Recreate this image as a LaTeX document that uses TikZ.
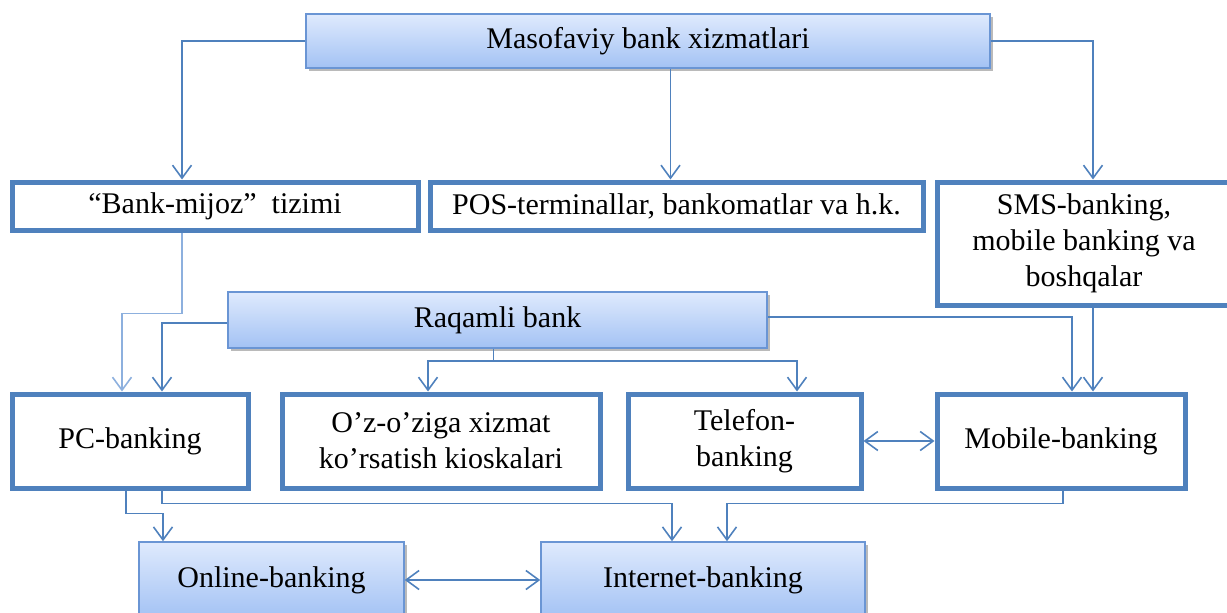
\documentclass[tikz,border=0pt]{standalone}
\usepackage{fontspec}
\setmainfont{Liberation Serif}
\usetikzlibrary{arrows.meta,shadows,calc}
\definecolor{ln}{RGB}{79,129,189}
\definecolor{lnl}{RGB}{141,176,222}
\definecolor{gtop}{RGB}{223,234,253}
\definecolor{gbot}{RGB}{163,194,244}
\definecolor{gbd}{RGB}{106,149,212}
\begin{document}
\begin{tikzpicture}[x=1pt,y=-1pt,
  every node/.style={font=\fontsize{30}{36}\selectfont, inner sep=0pt, align=center},
  wbox/.style={draw=ln, line width=5pt, fill=white, rectangle},
  gbox/.style={draw=gbd, line width=1.5pt, top color=gtop, bottom color=gbot,
    drop shadow={shadow xshift=3pt, shadow yshift=-3pt, opacity=0.45, fill=black!60}},
  plain/.style={draw=ln, line width=1.6pt},
  conn/.style={plain, -{Straight Barb[length=13pt,width=19pt]}},
  dconn/.style={plain, {Straight Barb[length=13pt,width=19pt]}-{Straight Barb[length=13pt,width=19pt]}}]
\useasboundingbox (0,0) rectangle (1227,613);
\clip (0,0) rectangle (1227,613);

\node[gbox, minimum width=684, minimum height=54] (m) at (648,41) {Masofaviy bank xizmatlari};
\node[wbox, minimum width=406, minimum height=48] (bm) at (215,206) {“Bank-mijoz”\ \ tizimi};
\node[wbox, minimum width=493, minimum height=48] (pos) at (676.5,206) {POS-terminallar, bankomatlar va h.k.};
\node[wbox, minimum width=294, minimum height=123] (sms) at (1084,243.5) {SMS-banking,\\ mobile banking va\\ boshqalar};
\node[gbox, minimum width=539, minimum height=56] (rb) at (497.5,320) {Raqamli bank};
\node[wbox, minimum width=236, minimum height=94] (pc) at (130,441) {PC-banking};
\node[wbox, minimum width=318, minimum height=94] (oz) at (441,441) {O’z-o’ziga xizmat\\ ko’rsatish kioskalari};
\node[wbox, minimum width=233, minimum height=94] (tel) at (744.5,441) {Telefon-\\ banking};
\node[wbox, minimum width=248, minimum height=94] (mob) at (1061,441) {Mobile-banking};
\node[gbox, minimum width=265, minimum height=76] (on) at (271.5,580) {Online-banking};
\node[gbox, minimum width=324, minimum height=76] (in) at (703,580) {Internet-banking};

% top level
\draw[conn] (m.west) -| ([xshift=-33pt]bm.north);
\draw[conn] ([xshift=-6pt]pos.north |- m.south) -- ([xshift=-6pt]pos.north);
\draw[conn] (m.east) -| ([xshift=9pt]sms.north);

% to PC-banking
\draw[conn, draw=lnl] ([xshift=-33pt]bm.south) -- ++(0,81) -| ([xshift=-8pt]pc.north);
\draw[conn] ([yshift=-3pt]rb.west) -| ([xshift=32pt]pc.north);

% Raqamli bank down
\draw[plain] ([xshift=-4pt]rb.south) -- ++(0,12) coordinate (rj);
\draw[conn] (rj) -| ([xshift=-13pt]oz.north);
\draw[conn] (rj) -| ([xshift=52.5pt]tel.north);
\draw[conn] ([yshift=3pt]rb.east) -| ([xshift=11pt]mob.north);
\draw[conn] ([xshift=32pt]mob.north |- sms.south) -- ([xshift=32pt]mob.north);

\draw[dconn] (tel.east) -- (mob.west);

% bottom
\draw[conn] ([xshift=-4pt]pc.south) -- ++(0,23) -| ([xshift=-108.5pt]on.north);
\draw[conn] ([xshift=32pt]pc.south) -- ++(0,13) -| ([xshift=-31pt]in.north);
\draw[conn] ([xshift=2pt]mob.south) -- ++(0,13) -| ([xshift=24pt]in.north);
\draw[dconn] (on.east) -- (in.west);
\end{tikzpicture}
\end{document}
